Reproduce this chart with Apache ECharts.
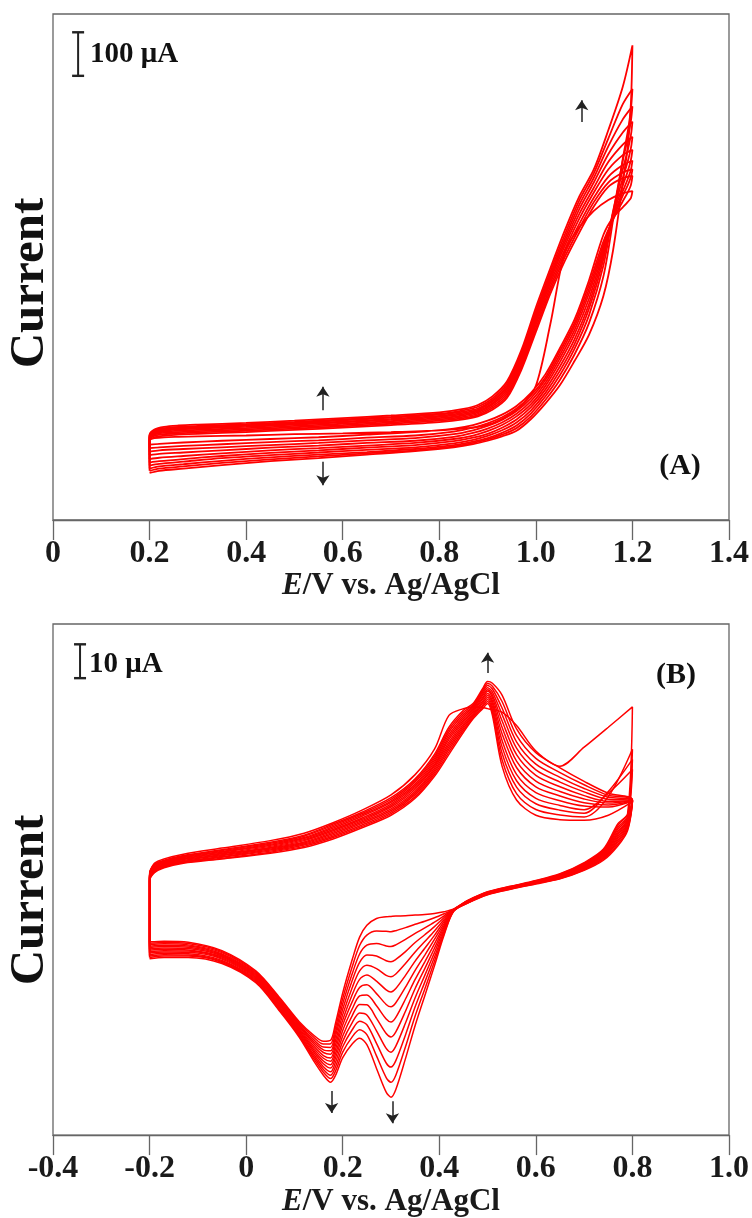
<!DOCTYPE html>
<html><head><meta charset="utf-8">
<script src="https://cdn.jsdelivr.net/npm/echarts@6/dist/echarts.min.js"></script>
<style>html,body{margin:0;padding:0;background:#fff}#c{width:752px;height:1218px}</style>
</head><body><div id="c"></div>
<script>
// ---------- Panel A : potential grids (V) ----------
const A_fwdV = [0.2, 0.2, 0.21, 0.23, 0.26, 0.3, 0.4, 0.5, 0.6, 0.7, 0.8, 0.85, 0.88, 0.91, 0.94, 0.97, 1.0, 1.03, 1.06, 1.09, 1.12, 1.15, 1.18, 1.2];
const A_revV = [1.2, 1.197, 1.19, 1.18, 1.16, 1.14, 1.11, 1.08, 1.05, 1.02, 0.99, 0.96, 0.93, 0.9, 0.87, 0.83, 0.75, 0.65, 0.55, 0.45, 0.35, 0.27, 0.22, 0.2];
// Panel A : current (uA), forward scans per cycle
const A_f0 = [-15, -15, -12, -10, -9, -8, -6, -3, -1, 2, 6, 10, 14, 22, 38, 62, 108, 250, 415, 472, 510, 535, 550, 555];
const A_f1 = [-27, -18, -10, -6, -4, -2, 2, 7, 12, 18, 25, 31, 38, 53, 80, 145, 232, 320, 395, 460, 520, 565, 585, 590];
const A_f2 = [-35, -15, -7, -3, -1, 1, 5, 10, 15, 21, 28, 34, 41, 57, 85, 151, 240, 328, 404, 470, 530, 575, 598, 605];
const A_f3 = [-43, -13, -4, 0, 2, 4, 8, 13, 18, 24, 31, 37, 44, 61, 90, 157, 248, 336, 413, 480, 540, 588, 615, 625];
const A_f4 = [-51, -11, -2, 3, 5, 7, 11, 16, 21, 27, 34, 40, 47, 65, 95, 163, 255, 344, 421, 492, 552, 605, 638, 650];
const A_f5 = [-60, -10, 0, 5, 8, 10, 14, 19, 24, 30, 37, 43, 50, 68, 100, 168, 262, 351, 430, 503, 563, 622, 662, 680];
const A_f6 = [-68, -8, 2, 7, 10, 12, 16, 21, 26, 32, 39, 46, 53, 72, 104, 173, 268, 357, 438, 514, 575, 640, 690, 715];
const A_f7 = [-75, -7, 4, 9, 12, 14, 18, 23, 29, 35, 42, 49, 56, 75, 108, 178, 274, 363, 446, 524, 586, 658, 720, 750];
const A_f8 = [-82, -6, 6, 11, 14, 16, 20, 25, 31, 37, 44, 52, 60, 79, 113, 184, 280, 370, 455, 534, 596, 676, 755, 790];
const A_f9 = [-87, -5, 8, 14, 17, 19, 23, 28, 34, 40, 47, 55, 64, 84, 118, 190, 288, 378, 465, 543, 605, 695, 795, 890];
// Panel A : reverse scans per cycle
const A_r0 = [555, 540, 530, 518, 495, 455, 350, 260, 195, 135, 92, 62, 42, 28, 18, 10, 2, -4, -10, -14, -18, -22, -25, -27];
const A_r1 = [590, 570, 552, 532, 490, 440, 340, 252, 188, 128, 86, 56, 36, 22, 12, 3, -6, -11, -17, -21, -26, -30, -33, -35];
const A_r2 = [605, 588, 568, 545, 492, 432, 330, 245, 180, 122, 80, 50, 30, 16, 6, -3, -12, -17, -23, -28, -33, -37, -40, -43];
const A_r3 = [625, 605, 582, 555, 495, 425, 320, 236, 172, 115, 73, 44, 24, 10, 0, -9, -18, -23, -29, -34, -40, -45, -48, -51];
const A_r4 = [650, 628, 600, 568, 500, 418, 308, 226, 163, 108, 66, 38, 18, 4, -6, -14, -23, -29, -35, -40, -47, -53, -57, -60];
const A_r5 = [680, 655, 622, 585, 505, 410, 296, 215, 153, 100, 59, 31, 12, -2, -11, -19, -28, -34, -40, -46, -53, -60, -65, -68];
const A_r6 = [715, 685, 648, 605, 510, 400, 285, 204, 143, 92, 52, 24, 6, -7, -16, -24, -33, -39, -45, -51, -58, -66, -71, -75];
const A_r7 = [750, 718, 675, 625, 505, 385, 270, 193, 133, 84, 45, 17, 0, -12, -20, -28, -37, -44, -50, -56, -64, -72, -77, -82];
const A_r8 = [790, 745, 690, 630, 490, 360, 252, 180, 122, 76, 38, 11, -4, -15, -23, -31, -40, -47, -54, -61, -69, -77, -82, -87];
const A_r9 = [890, 760, 655, 575, 420, 315, 225, 165, 110, 68, 32, 5, -8, -18, -26, -33, -42, -50, -58, -65, -74, -82, -87, -92];

// ---------- Panel B : potential grids (V) ----------
const B_fwdV = [-0.2, -0.2, -0.19, -0.17, -0.13, -0.05, 0.05, 0.12, 0.18, 0.24, 0.3, 0.35, 0.39, 0.42, 0.45, 0.47, 0.49, 0.5, 0.51, 0.53, 0.56, 0.6, 0.65, 0.7, 0.75, 0.8];
const B_revV = [0.8, 0.79, 0.77, 0.74, 0.7, 0.65, 0.6, 0.55, 0.5, 0.46, 0.43, 0.41, 0.39, 0.37, 0.35, 0.33, 0.31, 0.3, 0.29, 0.27, 0.25, 0.235, 0.22, 0.2, 0.185, 0.175, 0.16, 0.14, 0.11, 0.07, 0.02, -0.05, -0.12, -0.17, -0.2];
// Panel B : forward scans (uA)
const B_f0 = [-2.4, -2.4, 0.3, 1.6, 3.0, 4.8, 7.0, 9.2, 12.3, 16, 20.5, 26.5, 34, 44, 46, 46.5, 46.3, 46, 45.7, 45, 41, 33.5, 29, 34.6, 40.5, 46.5];
const B_f1 = [-22.9, -5, -2.5, -1, 0.3, 1.6, 3.3, 5.0, 7.5, 10.8, 14.5, 19.5, 26, 32.5, 39, 43, 46, 47.5, 44, 29, 19, 14.5, 13.2, 13, 14.5, 18.5];
const B_f2 = [-23.3, -4.8, -2.3, -0.8, 0.5, 1.8, 3.6, 5.3, 7.9, 11.2, 15.0, 20.0, 26.6, 33.2, 39.6, 43.4, 46.6, 48.1, 44.9, 30.9, 20.9, 16.2, 14.6, 14, 20, 34];
const B_f3 = [-23.7, -4.6, -2.0, -0.6, 0.7, 2.1, 3.9, 5.7, 8.3, 11.6, 15.4, 20.6, 27.2, 34.0, 40.2, 43.8, 47.1, 48.7, 45.7, 32.8, 22.8, 17.9, 16, 15.1, 21.5, 31];
const B_f4 = [-24.2, -4.5, -1.8, -0.4, 0.9, 2.3, 4.2, 6.0, 8.7, 12.1, 15.9, 21.1, 27.8, 34.7, 40.8, 44.2, 47.7, 49.3, 46.6, 34.7, 24.7, 19.5, 17.4, 16.1, 21, 28];
const B_f5 = [-24.6, -4.3, -1.6, -0.2, 1.1, 2.6, 4.5, 6.3, 9.1, 12.5, 16.4, 21.6, 28.4, 35.4, 41.4, 44.6, 48.2, 49.9, 47.5, 36.6, 26.6, 21.2, 18.8, 17.2, 16.9, 18.7];
const B_f6 = [-25, -4.1, -1.4, 0, 1.4, 2.8, 4.8, 6.6, 9.5, 12.9, 16.9, 22.2, 29.0, 36.1, 42.0, 45.1, 48.8, 50.5, 48.3, 38.6, 28.6, 22.9, 20.2, 18.2, 17.5, 18.7];
const B_f7 = [-25.4, -3.9, -1.1, 0.2, 1.6, 3.1, 5.0, 7.0, 9.9, 13.3, 17.3, 22.7, 29.5, 36.9, 42.5, 45.5, 49.3, 51.1, 49.2, 40.5, 30.5, 24.6, 21.5, 19.3, 18.1, 18.8];
const B_f8 = [-25.8, -3.7, -0.9, 0.4, 1.8, 3.3, 5.3, 7.3, 10.3, 13.7, 17.8, 23.2, 30.1, 37.6, 43.1, 45.9, 49.9, 51.6, 50, 42.4, 32.4, 26.3, 22.9, 20.3, 18.6, 18.8];
const B_f9 = [-26.2, -3.5, -0.7, 0.6, 2.0, 3.6, 5.6, 7.6, 10.7, 14.2, 18.3, 23.7, 30.7, 38.3, 43.7, 46.3, 50.4, 52.2, 50.9, 44.3, 34.3, 27.9, 24.3, 21.4, 19.2, 18.9];
const B_f10 = [-26.7, -3.4, -0.4, 0.8, 2.2, 3.8, 5.9, 7.9, 11.1, 14.6, 18.7, 24.3, 31.3, 39.1, 44.3, 46.7, 51.0, 52.8, 51.8, 46.2, 36.2, 29.6, 25.7, 22.4, 19.8, 18.9];
const B_f11 = [-27.1, -3.2, -0.2, 1.0, 2.4, 4.1, 6.2, 8.3, 11.5, 15.0, 19.2, 24.8, 31.9, 39.8, 44.9, 47.1, 51.5, 53.4, 52.6, 48.1, 38.1, 31.3, 27.1, 23.5, 20.4, 19];
const B_f12 = [-27.5, -3.0, 0, 1.2, 2.6, 4.3, 6.5, 8.6, 11.9, 15.4, 19.7, 25.3, 32.5, 40.5, 45.5, 47.5, 52, 54, 53.5, 50, 40, 33, 28.5, 24.5, 21, 19];
// Panel B : reverse scans (uA)
const B_r0 = [46.5, 15, 12, 4.5, 0.5, -2.8, -4.8, -6.4, -8.1, -10.6, -13.2, -14, -14.5, -14.8, -15, -15.2, -15.3, -15.4, -15.5, -16, -18, -21.5, -28, -38, -47, -52, -52.3, -50.5, -46.5, -39.5, -31.5, -25.5, -23, -22.7, -22.9];
const B_r1 = [18.5, 14.6, 11.5, 4.2, 0.3, -2.9, -4.9, -6.5, -8.2, -10.7, -13.3, -14.6, -15.8, -16.8, -17.7, -18.7, -19.6, -19.9, -19.8, -19.7, -20.9, -24, -30.1, -39.6, -48.3, -53, -53.1, -51.1, -46.9, -39.8, -31.8, -25.8, -23.4, -23.1, -23.3];
const B_r2 = [34, 14.2, 10.9, 4, 0.1, -3.1, -5, -6.6, -8.3, -10.7, -13.3, -15.2, -17.1, -18.8, -20.4, -22.2, -23.8, -24.3, -24.1, -23.4, -23.9, -26.5, -32.2, -41.2, -49.6, -54.1, -54, -51.8, -47.3, -40.2, -32.1, -26.1, -23.8, -23.5, -23.7];
const B_r3 = [31, 13.8, 10.4, 3.7, -0.1, -3.2, -5.1, -6.6, -8.3, -10.8, -13.4, -15.7, -18.4, -20.8, -23.1, -25.8, -28.1, -28.8, -28.5, -27.1, -26.8, -29, -34.2, -42.8, -50.8, -55.1, -54.8, -52.4, -47.6, -40.5, -32.4, -26.5, -24.1, -23.9, -24.2];
const B_r4 = [28, 13.3, 9.8, 3.4, -0.3, -3.3, -5.1, -6.7, -8.4, -10.9, -13.4, -16.3, -19.7, -22.8, -25.9, -29.3, -32.4, -33.2, -32.8, -30.8, -29.8, -31.5, -36.3, -44.4, -52.1, -56.1, -55.6, -53, -48, -40.8, -32.7, -26.8, -24.5, -24.3, -24.6];
const B_r5 = [18.7, 12.9, 9.3, 3.1, -0.5, -3.4, -5.2, -6.8, -8.5, -10.9, -13.5, -16.9, -21, -24.8, -28.6, -32.8, -36.7, -37.7, -37.1, -34.5, -32.7, -34, -38.4, -46, -53.4, -57.2, -56.5, -53.7, -48.4, -41.2, -33, -27.1, -24.9, -24.7, -25];
const B_r6 = [18.7, 12.5, 8.8, 2.9, -0.7, -3.6, -5.3, -6.9, -8.6, -11, -13.5, -17.5, -22.2, -26.8, -31.3, -36.3, -40.9, -42.1, -41.4, -38.2, -35.6, -36.4, -40.5, -47.5, -54.7, -58.2, -57.3, -54.3, -48.8, -41.5, -33.3, -27.4, -25.3, -25.1, -25.4];
const B_r7 = [18.8, 12.1, 8.2, 2.6, -0.8, -3.7, -5.4, -6.9, -8.6, -11.1, -13.6, -18.1, -23.5, -28.8, -34, -39.8, -45.2, -46.6, -45.7, -41.8, -38.6, -38.9, -42.6, -49.1, -56, -59.2, -58.1, -54.9, -49.2, -41.8, -33.5, -27.7, -25.6, -25.5, -25.8];
const B_r8 = [18.8, 11.7, 7.7, 2.3, -1, -3.8, -5.5, -7, -8.7, -11.1, -13.6, -18.6, -24.8, -30.8, -36.7, -43.4, -49.5, -51, -50, -45.5, -41.5, -41.4, -44.6, -50.7, -57.2, -60.2, -58.9, -55.5, -49.5, -42.2, -33.8, -28, -26, -25.9, -26.2];
const B_r9 = [18.9, 11.3, 7.1, 2, -1.2, -3.9, -5.5, -7.1, -8.8, -11.2, -13.7, -19.2, -26.1, -32.8, -39.4, -46.9, -53.7, -55.5, -54.4, -49.2, -44.5, -43.9, -46.7, -52.3, -58.5, -61.3, -59.8, -56.2, -49.9, -42.5, -34.1, -28.4, -26.4, -26.3, -26.7];
const B_r10 = [18.9, 10.8, 6.6, 1.8, -1.4, -4.1, -5.6, -7.1, -8.8, -11.3, -13.7, -19.8, -27.4, -34.8, -42.1, -50.4, -58, -59.9, -58.7, -52.9, -47.4, -46.4, -48.8, -53.9, -59.8, -62.3, -60.6, -56.8, -50.3, -42.8, -34.4, -28.7, -26.8, -26.7, -27.1];
const B_r11 = [19, 10.4, 6, 1.5, -1.6, -4.2, -5.7, -7.2, -8.9, -11.3, -13.8, -20.4, -28.7, -36.8, -44.8, -53.9, -62.3, -64.4, -63, -56.6, -50.3, -48.9, -50.9, -55.5, -61.1, -63.3, -61.4, -57.4, -50.7, -43.2, -34.7, -29, -27.1, -27.1, -27.5];
const B_r12 = [19, 10, 5.5, 1.2, -1.8, -4.3, -5.8, -7.3, -9, -11.4, -13.8, -20.9, -30, -38.8, -47.6, -57.4, -66.5, -68.8, -67.3, -60.3, -53.3, -51.4, -53, -57.1, -62.4, -64.4, -62.3, -58.1, -51.1, -43.5, -35, -29.3, -27.5, -27.5, -27.9];

// ---------- tick labels ----------
const tickLabelsA = ['0', '0.2', '0.4', '0.6', '0.8', '1.0', '1.2', '1.4'];
const tickLabelsB = ['-0.4', '-0.2', '0', '0.2', '0.4', '0.6', '0.8', '1.0'];

// ---------- annotations (data units) ----------
const scaleBarA = [[0.052, 820], [0.052, 920]];   // 100 uA
const scaleBarB = [[-0.344, 55], [-0.344, 65]];   // 10 uA
const arrowsA = [[0.559, 52, 106], [0.559, -66, -120], [1.095, 714, 764]];
const arrowsB = [[0.5, 56.5, 62.5], [0.177, -67, -73.5], [0.303, -70, -76.5]];

const FONT = "'Liberation Serif','Times New Roman',serif";
const RED = '#ff0000';

function cyc(fv, f, rv, r) {
  return fv.map((v, i) => [v, f[i]]).concat(rv.map((v, i) => [v, r[i]]));
}
const A_cycles = [[A_f0, A_r0], [A_f1, A_r1], [A_f2, A_r2], [A_f3, A_r3], [A_f4, A_r4], [A_f5, A_r5], [A_f6, A_r6], [A_f7, A_r7], [A_f8, A_r8], [A_f9, A_r9]];
const B_cycles = [[B_f0, B_r0], [B_f1, B_r1], [B_f2, B_r2], [B_f3, B_r3], [B_f4, B_r4], [B_f5, B_r5], [B_f6, B_r6], [B_f7, B_r7], [B_f8, B_r8], [B_f9, B_r9], [B_f10, B_r10], [B_f11, B_r11], [B_f12, B_r12]];

const series = [];
A_cycles.forEach(([f, r]) => series.push({
  type: 'line', xAxisIndex: 0, yAxisIndex: 0, data: cyc(A_fwdV, f, A_revV, r),
  symbol: 'none', smooth: 0.3, lineStyle: { color: RED, width: 1.8 }, silent: true, z: 2
}));
B_cycles.forEach(([f, r]) => series.push({
  type: 'line', xAxisIndex: 1, yAxisIndex: 1, data: cyc(B_fwdV, f, B_revV, r),
  symbol: 'none', smooth: 0.3, lineStyle: { color: RED, width: 1.5 }, silent: true, z: 2
}));

function annot(idx, bar, arrows) {
  return {
    type: 'line', xAxisIndex: idx, yAxisIndex: idx, data: bar,
    symbol: 'rect', symbolSize: [12, 2.4], itemStyle: { color: '#222' },
    lineStyle: { color: '#222', width: 2 }, silent: true, z: 5,
    markLine: {
      silent: true, symbol: ['none', 'arrow'], symbolSize: 10,
      lineStyle: { color: '#222', width: 1.5, type: 'solid' },
      itemStyle: { color: '#222' }, label: { show: false }, emphasis: { disabled: true },
      data: arrows.map(a => [{ coord: [a[0], a[1]] }, { coord: [a[0], a[2]] }])
    }
  };
}
series.push(annot(0, scaleBarA, arrowsA));
series.push(annot(1, scaleBarB, arrowsB));

function xAx(idx, min, max, labels) {
  return {
    type: 'value', gridIndex: idx, min: min, max: max, interval: 0.2,
    name: '{i|E}/V vs. Ag/AgCl', nameLocation: 'middle', nameGap: 48,
    nameTextStyle: { fontFamily: FONT, fontSize: 31, fontWeight: 'bold', color: '#1a1a1a',
      rich: { i: { fontFamily: FONT, fontSize: 31, fontWeight: 'bold', fontStyle: 'italic', color: '#1a1a1a' } } },
    axisLine: { show: true, onZero: false, lineStyle: { color: '#666', width: 1.3 } },
    axisTick: { show: true, inside: false, length: 20, lineStyle: { color: '#666', width: 1.3 } },
    axisLabel: { margin: 18, fontFamily: FONT, fontSize: 32, fontWeight: 'bold', color: '#1a1a1a',
      showMinLabel: true, showMaxLabel: true,
      formatter: v => labels[Math.round((v - min) / 0.2)] },
    splitLine: { show: false }
  };
}
function yAx(idx, min, max) {
  return { type: 'value', gridIndex: idx, min: min, max: max,
    axisLine: { show: false }, axisTick: { show: false }, axisLabel: { show: false }, splitLine: { show: false } };
}
function txt(x, y, text, size, rot, align) {
  return { type: 'text', x: x, y: y, rotation: rot || 0, z: 10, silent: true,
    style: { text: text, fill: '#111', font: 'bold ' + size + 'px ' + FONT,
      textAlign: align || 'center', align: align || 'center',
      textVerticalAlign: 'middle', verticalAlign: 'middle' } };
}

const chart = echarts.init(document.getElementById('c'), null, { renderer: 'canvas' });
chart.setOption({
  animation: false,
  backgroundColor: '#fff',
  grid: [
    { left: 53, top: 14, width: 677, height: 506, show: true, borderColor: '#666', borderWidth: 1.3 },
    { left: 53, top: 624, width: 677, height: 513, show: true, borderColor: '#666', borderWidth: 1.3 }
  ],
  xAxis: [xAx(0, 0, 1.4, tickLabelsA), xAx(1, -0.4, 1.0, tickLabelsB)],
  yAxis: [yAx(0, -200, 962), yAx(1, -80, 71)],
  series: series,
  graphic: [
    txt(30, 283, 'Current', 49, Math.PI / 2),
    txt(30, 900, 'Current', 49, Math.PI / 2),
    txt(90, 55, '100 \u03bcA', 29, 0, 'left'),
    txt(89, 665, '10 \u03bcA', 29, 0, 'left'),
    txt(680, 466, '(A)', 30),
    txt(676, 675, '(B)', 30)
  ]
});
</script></body></html>
